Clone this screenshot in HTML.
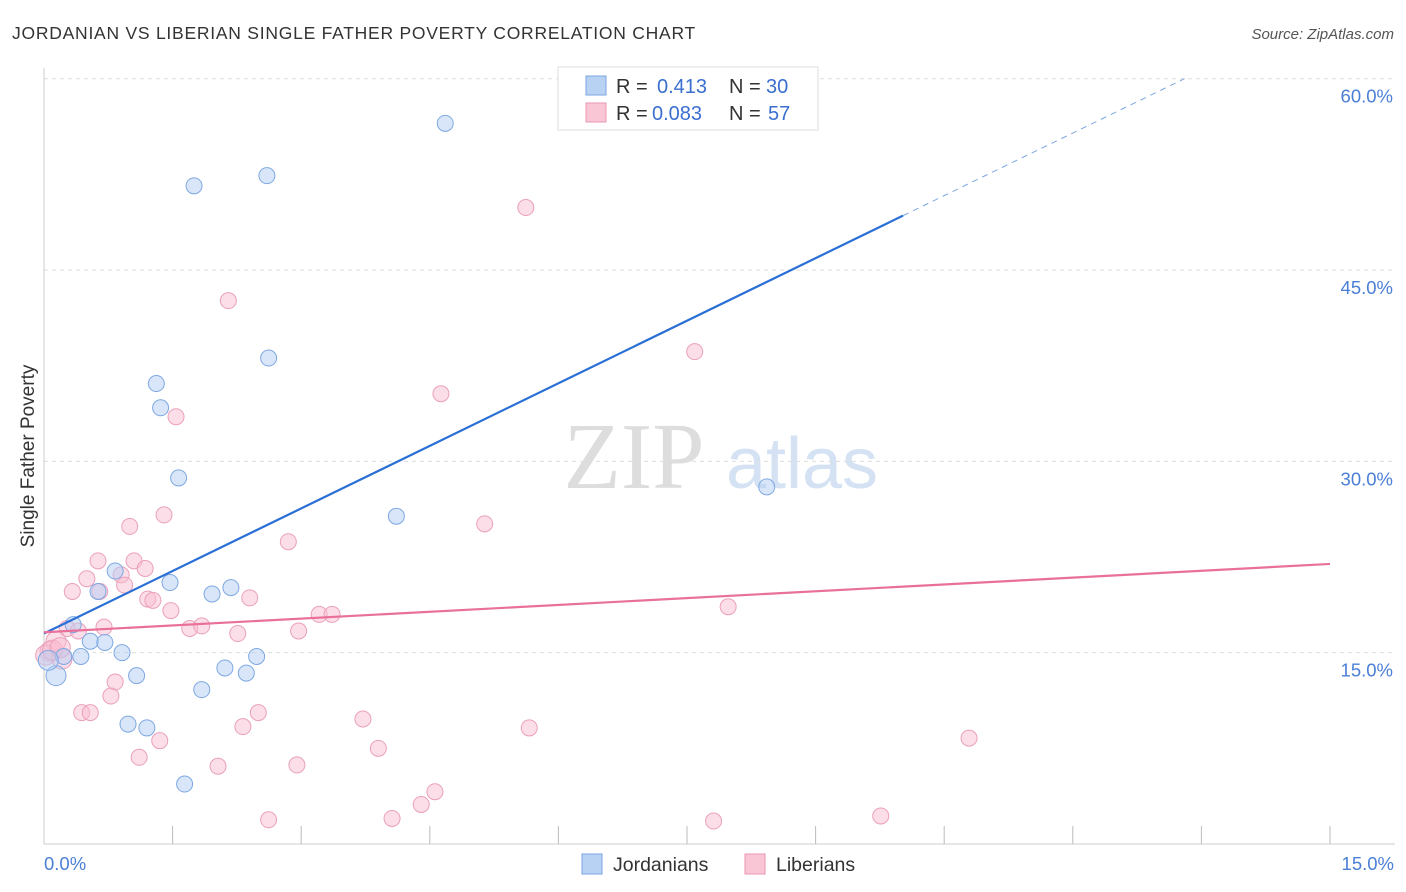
<!DOCTYPE html>
<html><head><meta charset="utf-8"><style>
body{margin:0;background:#fff;font-family:"Liberation Sans",sans-serif;}
svg{display:block}
</style></head><body>
<svg id="chart" width="1406" height="892" xmlns="http://www.w3.org/2000/svg">
<text x="12" y="39" font-size="17.5" fill="#333" letter-spacing="0.75">JORDANIAN VS LIBERIAN SINGLE FATHER POVERTY CORRELATION CHART</text>
<text x="1394" y="39" font-size="15" fill="#555" text-anchor="end" font-style="italic">Source: ZipAtlas.com</text>
<g>
<text x="634" y="488" font-size="94" fill="#ddd" text-anchor="middle" font-family="Liberation Serif,serif">ZIP</text>
<text x="802" y="488" font-size="72" fill="#d4e2f4" text-anchor="middle">atlas</text>
</g>
<g id="grid"></g>
<g id="axes"></g>
<g id="marks"></g>
<text transform="translate(34,456) rotate(-90)" font-size="19" fill="#333" text-anchor="middle">Single Father Poverty</text>
<g>
<rect x="558" y="67" width="260" height="63" fill="#fff" stroke="#ddd"/>
<rect x="586" y="76" width="20" height="19" fill="#b8d2f4" stroke="#7aa6e0"/>
<rect x="586" y="103" width="20" height="19" fill="#f9c6d6" stroke="#e996b2"/>
<text x="616" y="93" font-size="20" fill="#333">R = <tspan x="657" fill="#3a6fd0">0.413</tspan><tspan x="729">N = </tspan><tspan x="766" fill="#3a6fd0">30</tspan></text>
<text x="616" y="120" font-size="20" fill="#333">R = <tspan x="652" fill="#3a6fd0">0.083</tspan><tspan x="729">N = </tspan><tspan x="768" fill="#3a6fd0">57</tspan></text>
</g>
<g>
<rect x="582" y="854" width="20" height="20" fill="#b8d2f4" stroke="#7aa6e0"/>
<text x="613" y="871" font-size="19.5" fill="#333">Jordanians</text>
<rect x="745" y="854" width="20" height="20" fill="#f9c6d6" stroke="#e996b2"/>
<text x="776" y="871" font-size="19.5" fill="#333">Liberians</text>
</g>
</svg>
<script>
const blueX=[4.68,1.75,2.60,2.62,1.31,1.36,1.57,8.43,4.11,0.83,1.47,0.63,2.18,1.96,0.34,0.54,0.71,0.91,2.48,0.23,0.43,2.11,2.36,1.08,0.14,1.84,0.98,1.20,1.64,0.05];
const blueY=[56.5,51.6,52.4,38.1,36.1,34.2,28.7,28.0,25.7,21.4,20.5,19.8,20.1,19.6,17.2,15.9,15.8,15.0,14.7,14.7,14.7,13.8,13.4,13.2,13.2,12.1,9.4,9.1,4.7,14.4];
const pinkX=[5.62,2.15,7.59,4.63,1.54,1.40,1.00,5.14,2.85,0.63,1.05,1.18,0.90,0.50,0.94,0.33,0.65,1.21,1.27,2.40,1.48,3.21,3.36,7.98,1.70,1.84,0.70,0.27,0.40,2.26,2.97,0.14,0.07,0.21,0.83,0.78,0.44,0.54,2.50,3.72,2.32,5.66,10.79,1.35,3.90,1.11,2.03,2.95,4.56,4.40,2.62,4.06,7.81,9.76,0.02,0.10,0.19];
const pinkY=[49.9,42.6,38.6,35.3,33.5,25.8,24.9,25.1,23.7,22.2,22.2,21.6,21.1,20.8,20.3,19.8,19.8,19.2,19.1,19.3,18.3,18.0,18.0,18.6,16.9,17.1,17.0,16.9,16.7,16.5,16.7,15.9,15.1,14.5,12.7,11.6,10.3,10.3,10.3,9.8,9.2,9.1,8.3,8.1,7.5,6.8,6.1,6.2,4.1,3.1,1.9,2.0,1.8,2.2,14.8,15.2,15.4];
const yTicks=[15,30,45,60];
const yTickLabels=["15.0%","30.0%","45.0%","60.0%"];
const xTickLabels=["0.0%","15.0%"];
const blueFit=[16.5,3.27];
const pinkFit=[16.6,0.357];
const NS="http://www.w3.org/2000/svg";
const sx=v=>44+v*85.733, sy=v=>844-v*12.755;
function mk(tag,attrs,parent){const e=document.createElementNS(NS,tag);for(const k in attrs)e.setAttribute(k,attrs[k]);document.getElementById(parent).appendChild(e);return e;}
yTicks.forEach((t,i)=>{
 const l=mk('line',{x1:44,x2:1395,y1:sy(t),y2:sy(t),stroke:'#ddd','stroke-dasharray':'4,4'},'grid');
 
 
 const tx=mk('text',{x:1393,y:sy(t)+24,'font-size':18.5,fill:'#4a7fd6','text-anchor':'end'},'axes');tx.textContent=yTickLabels[i];
 
 
});
let a=mk('line',{x1:44,x2:44,y1:68,y2:844,stroke:'#ccc'},'axes');


a=mk('line',{x1:44,x2:1395,y1:844,y2:844,stroke:'#ccc'},'axes');


for(let i=1;i<=10;i++){const t=mk('line',{x1:sx(i*1.5),x2:sx(i*1.5),y1:826,y2:844,stroke:'#bbb'},'axes');
 
 }
[[0,'start',44],[15,'end',1394]].forEach((d,i)=>{const t=mk('text',{x:d[2],y:870,'font-size':18.5,fill:'#4a7fd6','text-anchor':d[1]},'axes');t.textContent=xTickLabels[i];
 
 });
pinkX.forEach((x,i)=>{const big=x<0.25&&pinkY[i]>14&&pinkY[i]<16;const c=mk('circle',{cx:sx(x),cy:sy(pinkY[i]),r:big?10:8,fill:'rgba(249,190,210,0.5)',stroke:'#eaa0bb','stroke-width':1},'marks');
 
 });
blueX.forEach((x,i)=>{const big=x<0.2;const c=mk('circle',{cx:sx(x),cy:sy(blueY[i]),r:big?10:8,fill:'rgba(180,206,244,0.5)',stroke:'#7ea8e2','stroke-width':1},'marks');
 
 });
const bx2=10.02, bx3=(60-blueFit[0])/blueFit[1];
let ln=mk('line',{x1:sx(0),y1:sy(blueFit[0]),x2:sx(bx2),y2:sy(blueFit[0]+blueFit[1]*bx2),stroke:'#2a6fd6','stroke-width':2.2},'marks');


ln=mk('line',{x1:sx(bx2),y1:sy(blueFit[0]+blueFit[1]*bx2),x2:sx(bx3),y2:sy(60),stroke:'#7ea8e2','stroke-width':1,'stroke-dasharray':'6,5'},'marks');


ln=mk('line',{x1:sx(0),y1:sy(pinkFit[0]),x2:sx(15),y2:sy(pinkFit[0]+pinkFit[1]*15),stroke:'#e8709a','stroke-width':2.2},'marks');


</script>
</body></html>
